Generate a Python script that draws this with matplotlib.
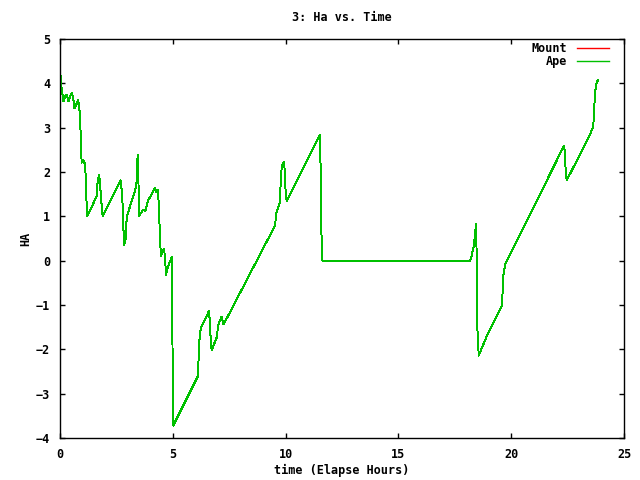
import matplotlib
matplotlib.use("Agg")
import matplotlib.pyplot as plt

# elapsed hours and hour angle
hours = [0.00, 0.02, 0.07, 0.15, 0.22, 0.30, 0.37, 0.45, 0.52, 0.58,
         0.64, 0.70, 0.81, 0.89, 0.93, 0.96, 1.03, 1.11, 1.15, 1.18,
         1.21, 1.62, 1.67, 1.74, 1.78, 1.85, 1.89, 2.69, 2.76, 2.81,
         2.84, 2.90, 2.96, 3.32, 3.40, 3.44, 3.47, 3.50, 3.58, 3.69,
         3.78, 3.89, 4.21, 4.28, 4.33, 4.39, 4.43, 4.48, 4.55, 4.61,
         4.65, 4.70, 4.75, 4.88, 4.95, 4.97, 5.00, 5.02, 6.10, 6.12,
         6.18, 6.24, 6.43, 6.60, 6.64, 6.68, 6.72, 6.94, 7.02, 7.16,
         7.25, 9.53, 9.60, 9.68, 9.75, 9.78, 9.83, 9.88, 9.93, 9.97,
         10.00, 10.05, 11.52, 11.55, 11.58, 11.63, 18.17, 18.25, 18.35, 18.41,
         18.44, 18.47, 18.49, 18.56, 18.91, 19.58, 19.61, 19.65, 19.73, 22.31,
         22.35, 22.38, 22.42, 22.46, 23.42, 23.64, 23.66, 23.69, 23.71, 23.79,
         23.86]
ape = [4.05, 4.20, 3.90, 3.59, 3.70, 3.74, 3.59, 3.70, 3.78, 3.70,
       3.44, 3.50, 3.62, 3.29, 2.55, 2.21, 2.28, 2.17, 1.79, 1.26,
       1.00, 1.45, 1.79, 1.94, 1.68, 1.22, 1.00, 1.81, 1.45, 0.74,
       0.36, 0.43, 1.00, 1.56, 1.79, 2.39, 2.05, 1.00, 1.07, 1.15,
       1.11, 1.34, 1.64, 1.54, 1.60, 1.22, 0.47, 0.10, 0.21, 0.26,
       0.10, -0.32, -0.20, -0.01, 0.08, -0.88, -2.76, -3.72, -2.62, -2.48,
       -1.80, -1.52, -1.33, -1.14, -1.36, -1.78, -2.02, -1.74, -1.44, -1.26,
       -1.44, 0.79, 1.11, 1.20, 1.34, 1.75, 2.13, 2.20, 2.22, 1.97,
       1.56, 1.34, 2.84, 2.13, 0.74, 0.00, 0.00, 0.11, 0.36, 0.66,
       0.83, 0.10, -1.41, -2.14, -1.71, -1.03, -0.81, -0.35, -0.09, 2.56,
       2.59, 2.39, 1.97, 1.81, 2.77, 3.02, 3.29, 3.52, 3.78, 4.02,
       4.08]
mount = list(ape)  # mount trace sits under the ape trace

font = {"family": "DejaVu Sans Mono", "weight": "bold", "size": 8.5}

fig = plt.figure(figsize=(6.4, 4.8), dpi=100)
ax = fig.add_axes([60/640, 1 - 438/480, (624-60)/640, (438-39)/480])

ax.plot(hours, mount, color="#ff0000", lw=0.7, antialiased=False, label="Mount")
ax.plot(hours, ape, color="#00c000", lw=0.7, antialiased=False, label="Ape")

ax.set_xlim(0, 25)
ax.set_ylim(-4, 5)
ax.set_xticks(range(0, 26, 5))
ax.set_yticks(range(-4, 6))
ax.tick_params(direction="in", length=3.5, width=1, top=True, right=True, pad=7)
for lbl in ax.get_xticklabels() + ax.get_yticklabels():
    lbl.set_fontfamily(font["family"])
    lbl.set_fontweight("bold")
    lbl.set_fontsize(font["size"])
for s in ax.spines.values():
    s.set_linewidth(1)

ax.set_title("3: Ha vs. Time", fontdict=font, pad=13)
ax.set_xlabel("time (Elapse Hours)", fontdict=font, labelpad=2)
ax.set_ylabel("HA", fontdict=font, labelpad=3)

leg = ax.legend(loc="upper right", bbox_to_anchor=(0.973, 0.993), frameon=False,
                markerfirst=False,
                prop={"family": "DejaVu Sans Mono", "weight": "bold", "size": 8.5},
                handlelength=2.7, labelspacing=0.05, borderaxespad=0,
                borderpad=0, handletextpad=0.8)
for h in leg.get_lines():
    h.set_linewidth(1)

fig.savefig("out.png", dpi=100)
